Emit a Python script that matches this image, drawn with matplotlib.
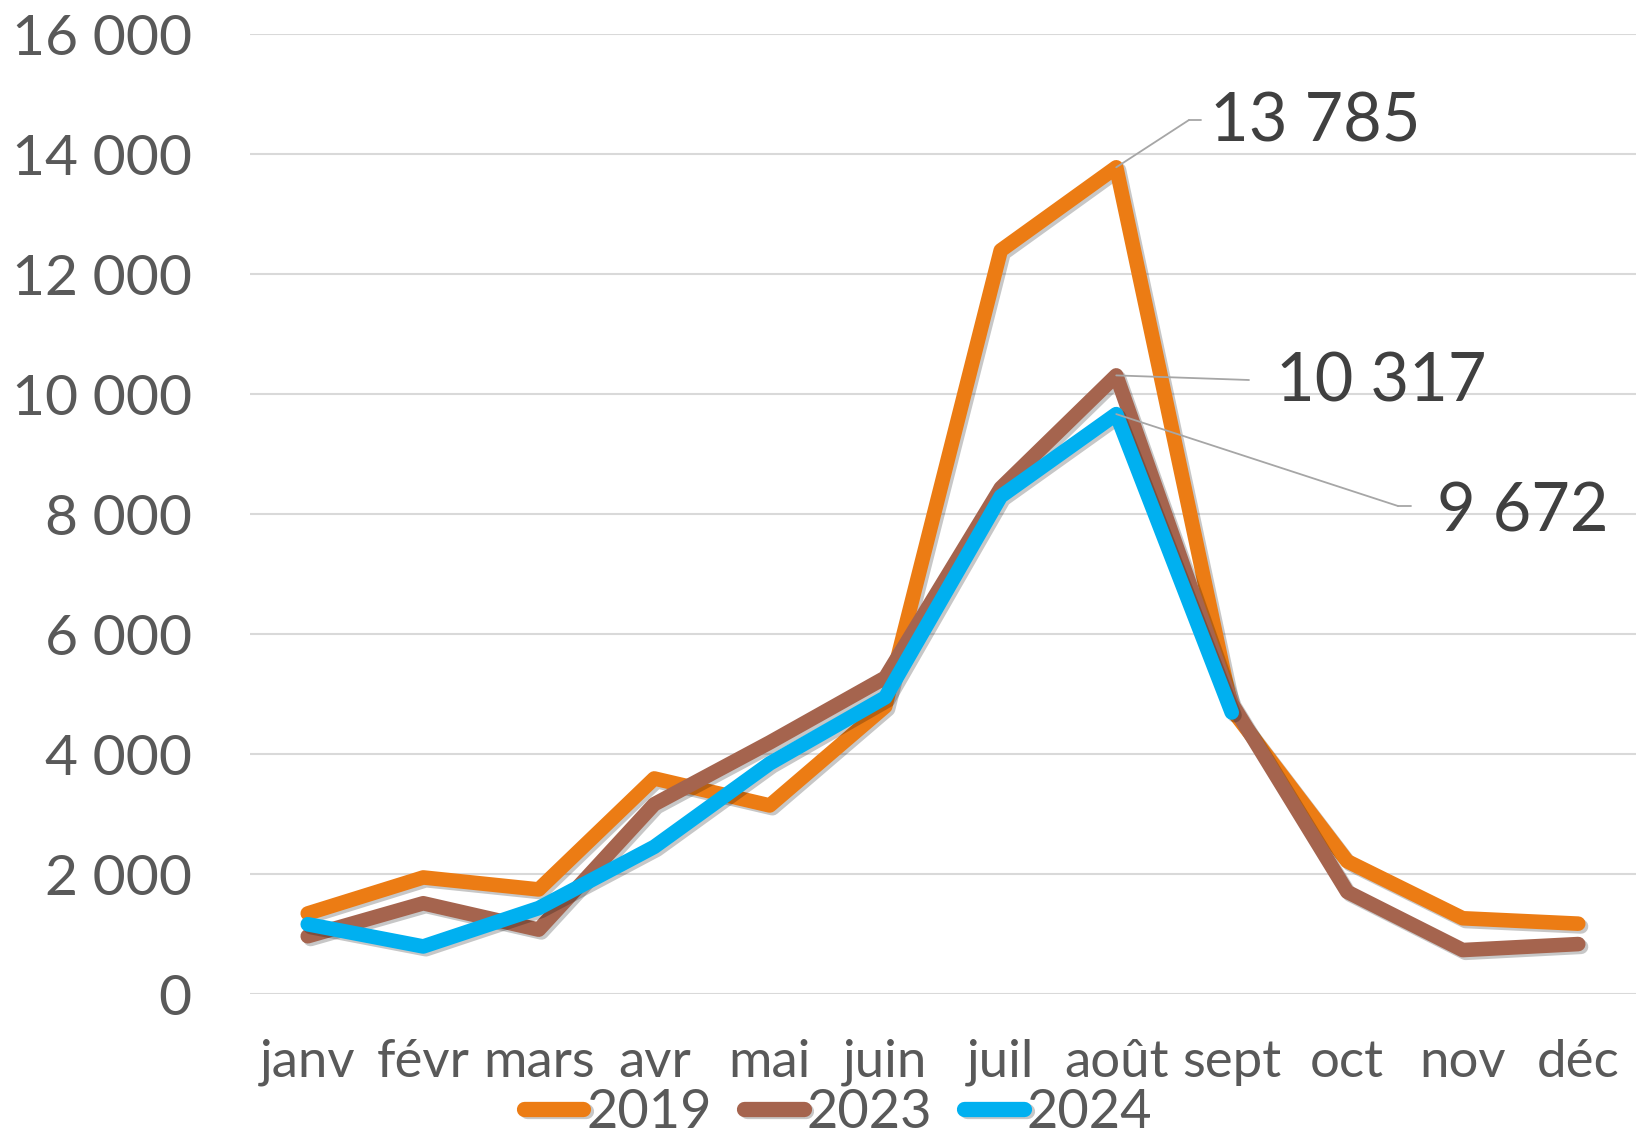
import matplotlib
matplotlib.use("Agg")
import matplotlib.pyplot as plt
import matplotlib.patheffects as pe

plt.rcParams['font.family'] = ['Lato', 'DejaVu Sans']

months = ['janv', 'févr', 'mars', 'avr', 'mai', 'juin', 'juil', 'août', 'sept', 'oct', 'nov', 'déc']
v2019 = [1350, 1950, 1750, 3600, 3150, 4800, 12400, 13785, 4750, 2220, 1270, 1180]
v2023 = [970, 1520, 1080, 3170, 4200, 5280, 8440, 10317, 4850, 1710, 740, 840]
v2024 = [1170, 800, 1440, 2460, 3850, 4950, 8300, 9672, 4700]
years = ['2019', '2023', '2024']
colors = ['#EC7C14', '#A5644E', '#00B0F0']

fig = plt.figure(figsize=(16.36, 11.39), dpi=100)
ax = fig.add_axes([0.1528, 0.1269, 0.8472, 0.8429])

# drop shadow like the office chart
shadow = [pe.SimpleLineShadow(offset=(2, -2), shadow_color='k', alpha=0.22), pe.Normal()]
for vals, c, lab in zip([v2019, v2023, v2024], colors, years):
    ax.plot(range(len(vals)), vals, color=c, lw=10.5, label=lab,
            solid_capstyle='round', solid_joinstyle='round', path_effects=shadow)

ax.set_xlim(-0.5, 11.5)
ax.set_ylim(0, 16000)
ax.set_yticks(range(0, 16001, 2000))
ax.set_yticklabels(['{:,}'.format(t).replace(',', ' ') for t in range(0, 16001, 2000)])
ax.set_xticks(range(12))
ax.set_xticklabels(months)
ax.tick_params(axis='y', length=0, pad=42, labelsize=41, labelcolor='#595959')
ax.tick_params(axis='x', length=0, pad=32, labelsize=38, labelcolor='#595959')
ax.grid(axis='y', color='#d9d9d9', lw=1.5)
ax.set_axisbelow(True)
for s in ax.spines.values():
    s.set_visible(False)

# data labels for août with leader lines (figure pixel coordinates)
labels = [(13785, (1189, 1019), (1201, 1019), (1210, 1017)),
          (10317, (1249, 759), (1249, 759), (1276, 756)),
          (9672, (1398, 633), (1411, 633), (1437, 626))]
for val, elbow, end, txt in labels:
    ax.annotate('', xy=(7, val), xycoords='data', xytext=elbow, textcoords='figure pixels',
                arrowprops=dict(arrowstyle='-', color='#a6a6a6', lw=1.3, shrinkA=0, shrinkB=0))
    if end != elbow:
        ax.annotate('', xy=elbow, xycoords='figure pixels', xytext=end, textcoords='figure pixels',
                    arrowprops=dict(arrowstyle='-', color='#a6a6a6', lw=1.3, shrinkA=0, shrinkB=0))
    fig.text(txt[0] / 1636, txt[1] / 1139, '{:,}'.format(val).replace(',', ' '),
             fontsize=48, color='#404040', ha='left', va='center')

leg = fig.legend(loc='center', bbox_to_anchor=(838 / 1636, 27 / 1139), ncol=3, frameon=False,
                 fontsize=39, handlelength=1.1, handletextpad=0.05, columnspacing=0.6,
                 borderpad=0, labelcolor='#595959')
for h in leg.get_lines():
    h.set_linewidth(11)
    h.set_solid_capstyle('round')

fig.savefig('out.png', dpi=100)
